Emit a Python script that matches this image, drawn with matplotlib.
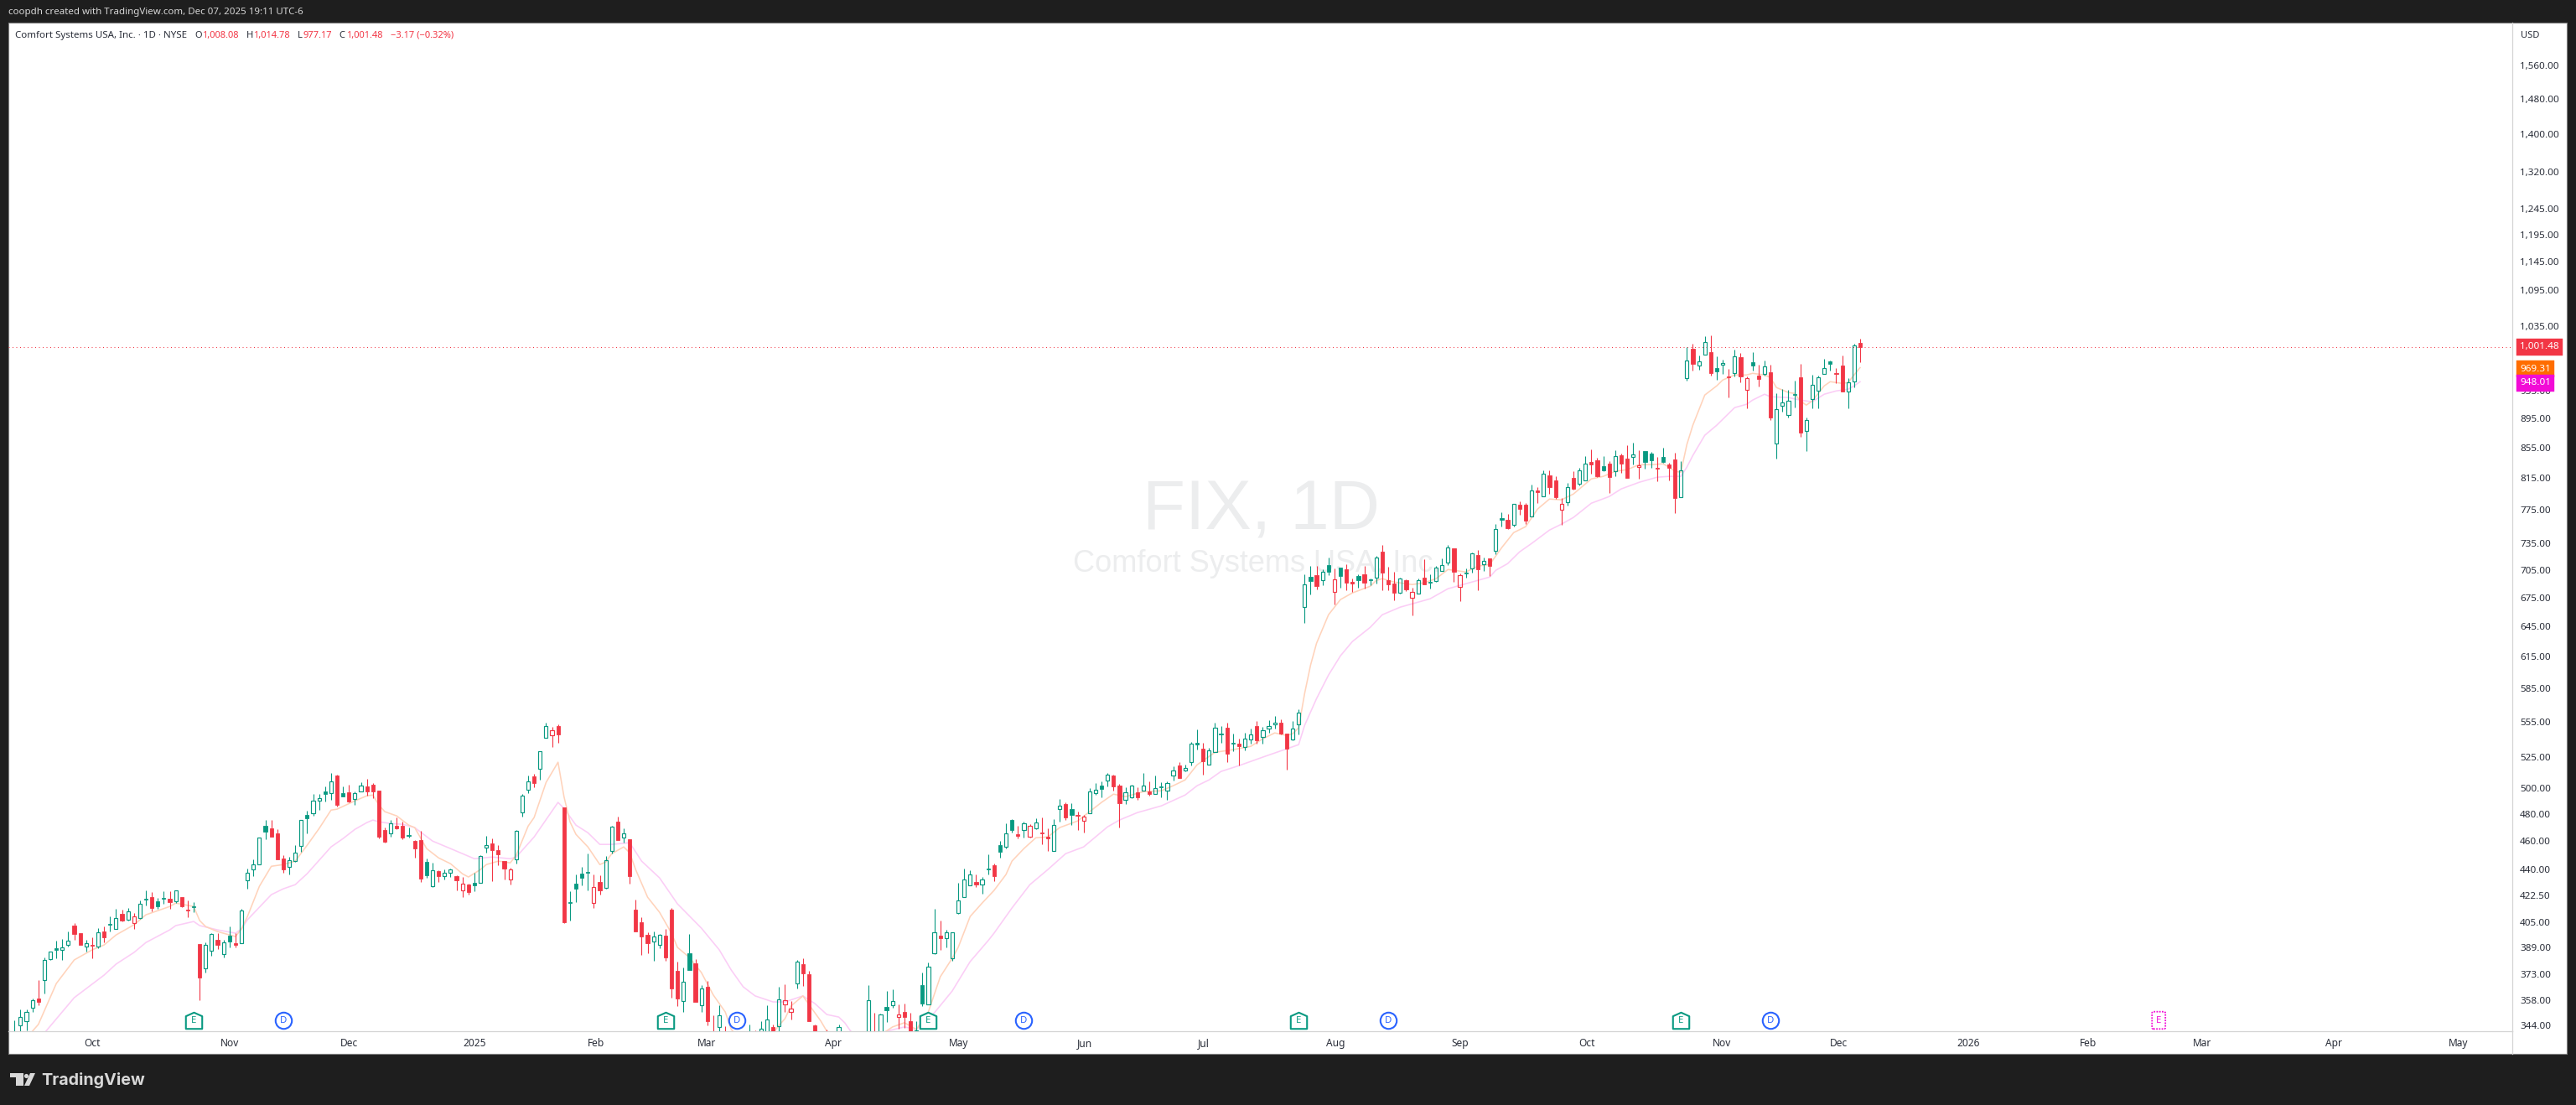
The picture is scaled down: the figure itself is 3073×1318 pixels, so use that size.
import numpy as np
import matplotlib
matplotlib.use("Agg")
import matplotlib.pyplot as plt
from matplotlib.patches import Rectangle, Polygon
from matplotlib.path import Path
from matplotlib.ticker import NullLocator

plt.rcParams['font.family'] = ['Noto Sans', 'DejaVu Sans']

# candle data, one row per ten sessions (the bars below the pane floor are estimates)
highs = [
 347.1,352.9,352.9,358.9,369.6,382.8,386.5,393.2,394.2,398.9,
 404.2,397.9,393.7,395.3,400.9,402.1,408.5,413.4,412.8,414.0,
 410.7,418.9,425.6,424.4,420.5,425.0,425.0,425.8,421.1,418.9,
 417.8,391.2,392.1,397.9,397.9,393.7,402.1,397.9,413.4,440.4,
 446.8,462.8,475.5,475.5,468.6,449.8,448.6,457.0,475.5,482.4,
 495.3,495.3,501.2,511.9,510.6,501.2,502.5,497.2,504.5,507.2,
 503.9,497.9,469.9,475.5,477.4,474.2,469.9,460.6,467.4,447.4,
 444.5,439.2,439.8,440.4,435.8,434.7,430.1,437.5,449.8,463.7,
 461.8,457.0,445.7,441.0,468.0,495.3,509.9,511.2,529.8,554.1,
 550.6,552.7,485.0,425.0,436.4,441.6,451.0,436.4,435.8,449.2,
 471.0,478.0,469.2,461.2,419.4,407.9,398.4,398.9,397.4,400.6,
 414.0,380.5,377.0,397.4,382.0,366.7,369.1,349.6,355.3,343.8,
 335.0,330.0,325.0,344.7,341.5,346.5,355.3,344.7,365.7,367.2,
 357.6,381.5,382.5,375.0,344.7,338.0,341.9,336.0,344.5,338.0,
 335.0,335.0,337.0,366.7,351.0,350.4,363.4,364.3,355.7,356.2,
 351.0,346.5,374.0,380.0,413.4,405.9,400.0,398.4,430.7,440.4,
 439.2,436.4,434.7,450.4,443.9,460.0,473.0,476.1,471.0,474.2,
 472.3,476.7,477.4,469.2,476.1,491.4,488.9,488.2,481.8,479.2,
 499.9,503.9,505.2,511.9,510.6,503.2,500.6,502.5,500.6,511.9,
 505.2,509.9,504.5,505.2,517.4,520.8,518.7,537.5,548.3,536.8,
 532.6,554.1,551.3,554.1,544.7,540.4,545.4,549.0,555.6,550.5,
 556.3,560.0,557.0,544.7,555.6,565.9,699.9,709.2,709.2,705.4,
 718.6,706.4,707.6,711.1,695.3,699.9,709.2,695.3,720.5,733.0,
 708.2,702.7,696.2,694.4,685.3,695.3,716.7,699.9,709.2,717.7,
 733.0,729.2,700.8,706.4,724.4,727.3,718.6,717.7,757.6,771.7,
 769.7,782.0,785.1,783.0,806.0,802.8,824.4,824.4,816.8,789.2,
 808.2,823.3,827.7,843.0,852.0,840.8,843.0,836.4,850.9,846.4,
 857.7,861.1,850.9,849.8,848.6,841.9,854.3,834.2,847.5,836.4,
 1001.8,1006.2,987.8,1018.2,1019.6,986.5,981.3,967.1,997.0,991.7,
 955.7,993.0,973.5,980.0,973.5,930.8,937.0,935.7,949.4,974.8,
 895.9,958.2,956.9,982.6,980.0,968.4,987.8,953.1,1006.2,1014.78,
]
body_tops = [
 338.0,348.6,351.4,358.0,359.0,381.3,386.4,388.6,388.9,393.5,
 402.7,397.9,391.5,390.6,398.3,398.9,403.7,407.3,410.1,411.6,
 408.4,416.5,420.0,421.1,418.2,420.5,420.0,425.6,421.1,412.8,
 415.0,391.2,390.5,397.4,393.7,392.1,396.3,391.6,412.3,437.9,
 443.7,462.8,471.0,469.2,465.5,447.4,446.1,452.0,475.3,479.2,
 490.5,492.0,497.2,505.0,509.9,495.9,496.6,496.4,501.7,501.2,
 502.5,497.9,468.0,472.8,471.0,471.0,464.3,460.0,460.6,445.1,
 439.1,438.7,437.9,439.7,435.2,430.0,429.5,430.7,449.6,456.8,
 458.2,453.4,445.7,440.2,467.2,494.4,505.6,509.2,529.6,551.0,
 548.0,551.3,485.0,417.8,430.1,436.9,438.1,427.7,431.3,446.1,
 470.4,474.2,465.9,461.2,412.8,404.8,396.8,395.6,396.7,396.3,
 412.8,375.0,368.5,385.5,379.5,364.6,365.7,340.0,349.5,338.0,
 332.0,328.0,322.0,336.0,336.0,342.2,347.3,343.3,358.4,357.9,
 353.2,380.4,379.0,373.0,344.2,334.0,338.0,332.0,343.3,335.0,
 330.0,331.0,333.0,357.9,340.0,350.0,354.2,357.4,350.0,351.3,
 346.5,341.5,366.7,377.4,398.3,396.3,398.3,398.3,418.7,432.8,
 436.2,431.3,432.8,440.4,442.7,457.0,465.9,475.5,464.9,472.8,
 470.9,473.4,466.1,463.0,472.1,486.1,487.5,483.5,479.4,477.8,
 497.7,499.0,501.9,511.0,509.9,501.9,497.0,501.7,496.6,501.7,
 497.2,499.7,501.2,503.7,513.8,518.0,516.4,536.1,536.8,531.9,
 530.3,549.8,544.7,549.8,536.8,536.1,540.4,543.9,551.2,547.4,
 551.0,554.6,553.9,544.7,548.8,563.4,688.7,697.1,699.0,703.3,
 710.8,695.0,707.3,705.4,691.6,697.9,699.9,694.7,718.6,725.3,
 693.4,689.8,695.9,693.4,681.4,694.1,696.2,691.6,707.3,710.1,
 730.1,729.2,699.0,702.0,724.0,721.5,715.5,717.7,752.3,764.6,
 762.6,781.7,780.9,780.9,799.4,798.6,820.8,817.9,811.4,781.7,
 803.6,814.6,825.1,833.9,835.3,837.5,829.9,833.1,843.8,844.1,
 839.8,845.3,831.7,849.8,846.4,827.7,841.9,832.0,838.6,824.1,
 980.9,998.3,979.6,1009.8,993.0,968.4,977.0,955.7,986.1,985.2,
 954.0,977.4,956.9,971.8,961.9,908.6,918.2,919.5,929.6,954.4,
 893.1,944.0,955.3,969.3,978.7,960.7,972.2,947.7,1003.5,1008.08,
]
body_bottoms = [
 335.0,344.3,346.4,354.0,357.1,369.4,382.1,387.7,387.7,390.8,
 397.5,390.6,389.8,390.3,389.8,395.4,403.4,400.7,406.0,406.2,
 404.1,407.6,419.3,414.0,415.0,420.2,417.8,418.3,415.0,412.5,
 414.7,371.0,376.7,387.2,390.6,385.2,392.6,390.6,391.8,432.6,
 440.2,443.7,467.0,463.2,446.8,439.8,441.4,445.8,456.2,476.7,
 480.9,490.5,495.3,496.4,486.9,493.3,489.5,491.6,497.7,497.2,
 497.2,463.1,459.4,465.7,469.2,462.4,463.7,454.6,433.5,435.8,
 428.2,435.2,435.6,437.7,432.4,425.7,424.4,429.0,430.9,455.4,
 453.4,450.4,440.4,433.1,447.0,481.3,498.8,503.9,515.6,541.3,
 543.7,544.0,404.8,417.2,426.7,434.1,437.5,417.1,425.6,427.4,
 453.0,460.6,462.8,435.2,398.9,395.8,391.6,392.8,390.8,383.0,
 364.8,359.0,357.8,375.5,357.1,355.4,346.5,332.0,343.4,328.0,
 322.0,318.0,312.0,325.0,330.0,338.0,335.0,336.0,343.6,355.6,
 351.7,367.5,373.5,346.5,335.0,325.0,330.0,325.0,337.0,325.0,
 322.0,322.0,326.0,335.0,330.0,338.0,352.4,355.4,348.8,348.8,
 340.0,340.5,356.2,355.9,385.5,394.7,394.9,382.5,410.7,421.3,
 429.1,429.5,429.7,439.8,435.2,452.2,456.0,468.0,463.7,467.8,
 463.0,469.1,465.5,462.0,453.0,483.9,477.4,479.2,478.8,475.0,
 480.7,496.1,499.3,506.0,501.2,488.2,491.0,492.5,492.7,498.1,
 495.3,495.7,500.6,498.1,509.7,507.8,514.0,521.0,535.9,521.5,
 518.9,529.3,544.0,527.7,536.1,534.0,533.3,539.7,539.0,542.0,
 549.2,552.9,544.7,531.9,539.5,552.5,665.4,692.8,687.4,694.1,
 702.9,681.0,697.9,691.0,689.8,693.4,690.8,693.8,696.5,701.7,
 688.9,679.9,679.9,683.5,674.8,679.3,688.9,690.8,692.3,704.2,
 713.3,702.7,686.5,701.1,707.0,705.4,711.4,709.2,726.9,763.3,
 752.6,756.9,775.8,761.6,766.9,796.5,791.6,802.8,790.3,775.1,
 784.3,800.8,807.5,811.7,832.0,816.8,824.4,815.7,823.6,833.1,
 814.6,842.3,829.1,835.3,837.5,826.6,835.3,827.7,789.2,790.6,
 953.5,974.8,972.7,989.5,960.7,963.3,974.4,954.4,961.1,955.7,
 936.1,972.2,951.9,959.8,895.9,860.3,913.0,899.8,928.4,874.8,
 877.5,922.6,934.8,959.8,974.8,959.4,933.3,933.7,948.4,1001.48,
]
lows = [
 332.0,340.0,341.3,351.7,355.3,361.9,381.5,382.3,381.5,389.8,
 393.9,390.6,386.5,382.5,388.6,392.2,398.9,400.7,405.3,406.0,
 400.6,406.9,415.6,411.8,413.4,416.7,413.4,417.2,414.5,407.9,
 411.2,358.1,374.0,384.0,388.1,383.0,389.1,389.1,391.6,426.7,
 435.2,443.7,461.2,463.2,446.8,437.5,436.4,445.1,452.2,465.5,
 478.6,483.0,489.5,490.7,485.6,493.3,488.9,486.9,497.7,494.0,
 492.0,461.8,458.8,463.0,468.6,461.2,462.4,448.0,431.3,434.1,
 428.0,431.3,433.0,434.7,425.6,421.1,422.8,425.0,430.7,451.6,
 431.8,442.7,433.0,429.5,443.9,478.0,495.9,500.6,506.5,541.1,
 533.3,536.8,404.2,405.9,417.8,429.0,425.6,414.0,422.8,426.7,
 451.0,460.6,458.8,430.1,398.9,384.5,385.5,381.0,388.6,381.0,
 359.5,354.8,351.5,375.5,357.1,351.5,344.2,328.0,339.6,322.0,
 318.0,312.0,306.0,320.0,322.0,332.0,330.0,331.0,341.0,351.7,
 347.4,364.8,366.2,346.5,330.0,320.0,325.0,320.0,333.0,320.0,
 318.0,316.0,321.0,330.0,325.0,335.0,346.0,353.9,342.5,342.8,
 336.0,337.0,354.8,355.7,385.0,387.6,389.1,381.0,410.1,421.1,
 429.0,427.8,423.3,436.4,431.8,448.0,454.6,466.1,461.8,462.4,
 462.4,468.6,457.6,452.8,452.8,474.2,475.5,471.7,468.0,466.1,
 480.5,494.6,492.7,501.2,497.9,469.9,487.5,492.0,490.7,497.9,
 494.0,495.3,492.7,490.7,505.9,507.8,513.3,518.0,531.2,510.6,
 518.7,529.3,536.8,520.8,529.8,518.0,530.5,536.1,536.1,536.1,
 545.4,549.0,544.0,514.6,539.2,544.0,648.3,678.1,683.5,688.0,
 699.0,667.4,685.3,682.6,680.8,685.3,684.4,688.0,689.8,682.6,
 682.6,671.9,679.6,681.7,656.0,679.0,688.9,684.4,691.6,703.6,
 710.1,691.6,671.0,696.2,701.7,682.6,703.6,697.9,722.4,754.6,
 751.6,754.6,768.7,757.6,766.6,783.0,791.3,794.4,788.2,756.6,
 779.9,799.7,805.0,811.4,820.0,815.7,823.3,795.5,816.8,821.1,
 814.6,832.0,813.5,826.6,827.7,810.3,834.2,811.4,770.7,790.3,
 949.4,964.6,965.8,989.1,956.9,950.6,959.4,924.7,955.7,946.9,
 908.9,964.6,940.7,956.9,892.3,839.8,904.2,895.9,910.2,869.0,
 849.8,908.9,908.9,959.4,964.6,945.6,933.3,908.9,939.4,977.17,
]
# h hollow green, g filled green, f filled red, r hollow red
candle_kinds = (
 "hhhhfhhghh" "ffhfhfghfh" "rhgfggfhff" "gfhhfhgfhh" "hhgfffhhhg"
 "hhghfgfhhf" "fffhffgffg" "hfhhfrfghh" "fffrhhhfhh" "rffggggrfh"
 "hfhffffhhf" "ffhgfhffhf" "fffhfhhfhr" "rhfffffhhf" "hfhhfhghrf"
 "fhghhfhhhh" "hfhgfghgfh" "rhffhhfgfr" "hhghffhhfh" "fhghhfhhgf"
 "hhgfgfhhfh" "hhffhhhgfh" "grgffgfghf" "ffhfrhfghh" "hfrghfhfhg"
 "fhffhfhffr" "hfhhffgfhf" "fhrggfgffh" "hfhhfghfhf" "rgfhfhhhgf"
 "hhhhgffhhf"
)

# moving averages, read at the sessions where the curve could be located
ma_fast_bars = [
 3,4,7,10,13,15,17,20,22,24,26,27,30,31,32,34,37,38,39,41,43,45,47,49,51,53,54,57,59,60,
 61,62,64,66,67,69,71,73,75,76,78,79,81,83,84,86,87,89,91,92,93,94,96,98,99,100,102,103,104,106,
 108,110,111,113,115,117,119,120,122,125,127,128,129,130,132,133,135,136,138,142,145,147,149,151,153,155,157,158,160,162,
 164,166,167,169,171,173,175,178,180,182,184,186,189,192,194,196,198,201,204,207,209,211,213,214,215,216,217,218,220,222,
 224,227,228,229,231,234,236,238,240,243,245,247,249,251,253,255,257,259,261,263,264,266,268,270,272,274,276,277,278,279,
 280,281,283,285,286,288,290,291,293,294,295,297,298,299,300,301,303,304,306,307,308,309]
ma_fast = [
 341,344.7,367.6,381.5,387.6,390.6,396.8,403.2,409.6,412.3,415,417.2,415,405.9,402.1,398.9,395.8,400.6,408.5,428.4,442.1,443.3,445.7,457,469.2,483,483.7,490.1,494,494.6,
 486.9,481.8,478.6,471.7,469.9,454.6,448,443.9,436.9,434.7,439.8,443.3,445.7,444.5,449.8,471,477.4,504.5,520.8,493.3,474.2,464.9,455.8,443.3,445.1,451,455.8,451.6,439.8,421.1,
 411.2,397.9,389.1,383,374,361,351.5,342,335,333,340,344.2,347.8,354.8,360.5,355.7,346.5,341,337,333,339,343.3,345.6,342,351.5,371.5,382.5,389.1,408.5,417.2,
 425.6,436.4,445.7,454.6,462.4,463,469.9,474.8,481.8,488.9,495.3,493.3,497.2,497.9,501.9,506.5,518.7,529,531.2,534,540.4,545.4,543.2,544.7,549.8,580.3,606.9,628.1,656.9,672.8,
 679.9,687.1,693.4,695.3,691.6,688.9,690.8,695.3,705.4,702.7,709.2,711.1,730.1,747.6,754.6,775.8,788.2,787.2,794.4,807,813.5,816.8,823.3,825.5,832,832,833.1,828.8,823.3,822.2,
 858.8,885.3,928.4,941.9,950.6,958.2,958.2,960.7,958.2,954.4,939.4,932.1,930.8,919.8,913.8,919.8,941.9,948.1,945.6,946.9,958.2,969.31]
ma_slow_bars = [
 5,10,15,17,20,22,26,27,30,31,34,37,38,39,41,43,45,47,49,53,55,57,59,60,61,63,65,67,70,73,
 77,80,83,84,87,91,92,94,96,98,100,103,105,108,111,115,118,120,122,124,127,129,132,134,136,138,139,140,143,145,
 146,149,151,154,157,160,163,164,167,170,173,176,179,183,185,188,192,196,198,200,202,205,209,213,215,216,218,220,222,224,
 227,229,232,234,237,240,242,245,247,248,250,252,254,257,259,261,264,267,269,272,275,277,279,280,281,283,285,287,288,290,
 291,293,294,297,299,301,303,305,307,308,309]
ma_slow = [
 340,359.5,372.5,379,386,392.1,400,402.7,405.3,402.7,400,397.9,400.6,406.4,414.5,422.8,426.7,429.5,437,455.8,461.8,468.6,473.6,475.5,474.2,472.9,472.3,469.9,460,454.6,
 447.4,448.6,447.4,448.6,463,488.9,484.3,471.7,466.1,457.6,457.6,458.8,445.7,434.1,416.7,401.1,387.6,375.5,365.7,360.5,357.1,357.1,360.5,356.2,350.1,348.7,345.6,341,336,339,
 341,343.3,342,351,363.3,380.5,393.2,397.9,414,429.5,439.8,451,455.8,470.4,475.5,481.1,486.2,494.6,501.9,506.5,513.3,518,525,531.9,535.4,551.9,575.7,597.4,615.8,629.8,
 644.1,656.9,664.8,668.3,673.6,684.4,688,693.4,697.1,704.5,712,725.3,734.9,750.6,757.6,765.6,783,791.3,800.8,809.2,815.7,816.8,816.8,828.8,844.1,871.4,885.3,901.8,910.2,915,
 921,929.6,925.9,924.7,921,918.6,929.6,934.4,936.9,941.9,948.01]

price_ticks = [1560,1480,1400,1320,1245,1195,1145,1095,1035,975,935,895,855,815,775,735,705,675,645,
               615,585,555,525,500,480,460,440,422.5,405,389,373,358,344]
month_positions = [13,36,56,77,97.4,115.9,137.1,158.1,179.2,199.1,221.2,242,263.3,285.9,305.4,327.1,347.2,366.3,388.3,409.2]
month_labels = ['Oct','Nov','Dec','2025','Feb','Mar','Apr','May','Jun','Jul','Aug','Sep','Oct','Nov','Dec','2026','Feb','Mar','Apr','May']
earnings_bars = [30,109,153,215,279]
dividend_bars = [45,121,169,230,294]
next_earnings_bar = 359
last_close, fast_last, slow_last = 1001.48, 969.31, 948.01

GREEN, RED = '#089981', '#f23645'
W, H = 3073, 1318
fx = lambda x: x / W
fy = lambda y: 1 - y / H

fig = plt.figure(figsize=(W / 100, H / 100), dpi=100, facecolor='#1e1e1e')
# chart pane background
fig.add_artist(Rectangle((fx(10), fy(1257)), fx(3052), 1230 / H, transform=fig.transFigure,
                         fc='white', ec='#7f7f7f', lw=0.8, zorder=-5))

ax = fig.add_axes([fx(10), fy(1230), fx(2987), 1203 / H], facecolor='none')
ax.set_yscale('log')
ax.set_xlim(-1.025, 418.2)
ax.set_ylim(341.0, 1668.6)

for s in ('top', 'left'):
    ax.spines[s].set_visible(False)
for s in ('right', 'bottom'):
    ax.spines[s].set_color('#d4d4d4')
    ax.spines[s].set_linewidth(0.9)
# separators reach the pane edges
fig.add_artist(plt.Line2D([fx(2997), fx(2997)], [fy(1230), fy(1257)], color='#d4d4d4', lw=0.9, zorder=-4))

ax.yaxis.tick_right()
ax.set_yticks(price_ticks)
ax.set_yticklabels([f'{p:,.2f}' for p in price_ticks])
ax.yaxis.set_minor_locator(NullLocator())
ax.tick_params(axis='y', length=0, pad=6.5, labelsize=8.4, labelcolor='#2a2e39')
ax.set_xticks(month_positions)
ax.set_xticklabels(month_labels)
ax.tick_params(axis='x', length=0, pad=5.5, labelsize=8.6, labelcolor='#2a2e39')
for lab in ax.get_xticklabels():
    if lab.get_text() in ('2025', '2026'):
        lab.set_fontweight('bold')

# watermark
ax.text(0.5005, 0.4971, 'FIX, 1D', transform=ax.transAxes, family='Liberation Sans', fontsize=60,
        color='#ecedee', ha='center', va='baseline', zorder=0)
ax.text(0.4988, 0.4555, 'Comfort Systems USA, Inc.', transform=ax.transAxes,
        family='Liberation Sans', fontsize=26, color='#ecedee', ha='center', va='baseline', zorder=0)

# moving averages
ax.plot(ma_slow_bars, ma_slow, color='#fbcdf6', lw=1.15, zorder=2, solid_joinstyle='round')
ax.plot(ma_fast_bars, ma_fast, color='#ffd3bb', lw=1.15, zorder=2.1, solid_joinstyle='round')

# candles
bars = np.arange(len(highs))
kinds = np.array(list(candle_kinds))
high, top, bot, low = map(np.array, (highs, body_tops, body_bottoms, lows))
colors = np.where(np.isin(kinds, ['h', 'g']), GREEN, RED)
ax.vlines(bars, top, high, colors=colors, lw=0.8, zorder=3)
ax.vlines(bars, low, bot, colors=colors, lw=0.8, zorder=3)
filled = np.isin(kinds, ['f', 'g'])
ax.bar(bars[filled], (top - bot)[filled], bottom=bot[filled], width=0.58, color=colors[filled],
       edgecolor=colors[filled], lw=0.6, zorder=3.2)
ax.bar(bars[~filled], (top - bot)[~filled], bottom=bot[~filled], width=0.58, facecolor='none',
       edgecolor=colors[~filled], lw=0.85, zorder=3.2)

# last-close dotted line
ax.axhline(last_close, color=RED, lw=0.72, ls=(0, (1, 3.5)), zorder=2.5)

# price tags
for val, col, txt, dy in [(last_close, RED, '1,001.48', 0),
                          (fast_last, '#ff6d00', '969.31', -1.5),
                          (slow_last, '#f20bd6', '948.01', -1.5)]:
    ax.annotate(txt, xy=(1, val), xycoords=('axes fraction', 'data'), xytext=(9, dy),
                textcoords='offset pixels', ha='left', va='center', fontsize=8.4, color='white',
                fontweight='bold', annotation_clip=False, zorder=20,
                bbox=dict(boxstyle='square,pad=0.38', fc=col, ec=col, lw=0.3))

# event markers along the pane floor
xt = ax.get_xaxis_transform()
ev_y = 1 - (1217 - 27) / 1203
house = Path([(-1, -1), (-1, 0.55), (0, 1), (1, 0.55), (1, -1), (-1, -1)], closed=True)
ax.plot(earnings_bars, [ev_y] * len(earnings_bars), transform=xt, ls='none', marker=house, ms=14,
        mfc='white', mec=GREEN, mew=1.5, zorder=6, clip_on=False)
ax.plot(dividend_bars, [ev_y] * len(dividend_bars), transform=xt, ls='none', marker='o', ms=14,
        mfc='white', mec='#2962ff', mew=1.5, zorder=6, clip_on=False)
for b in earnings_bars:
    ax.text(b, ev_y, 'E', transform=xt, ha='center', va='center', fontsize=8.2, color=GREEN, zorder=7)
for b in dividend_bars:
    ax.text(b, ev_y, 'D', transform=xt, ha='center', va='center', fontsize=8.2, color='#2962ff', zorder=7)
ax.text(next_earnings_bar, ev_y, 'E', transform=xt, ha='center', va='center', fontsize=8.2, color='#f20bd6', zorder=7,
        bbox=dict(boxstyle='round,pad=0.42,rounding_size=0.15', fc='white', ec='#f20bd6', lw=1.3, ls=(0, (1, 0.8))))

# header and legend text
fig.text(fx(10), fy(15), 'coopdh created with TradingView.com, Dec 07, 2025 19:11 UTC-6', color='#d6d6d6',
         fontsize=8.3, ha='left', va='center')
legend_parts = [(18, 'Comfort Systems USA, Inc. · 1D · NYSE', '#2a2e39'), (232, 'O', '#2a2e39'), (241, '1,008.08', RED),
                (294, 'H', '#2a2e39'), (302, '1,014.78', RED), (355, 'L', '#2a2e39'), (362, '977.17', RED),
                (404, 'C', '#2a2e39'), (413, '1,001.48', RED), (466, '\u22123.17 (\u22120.32%)', RED)]
for x, t, c, fs in [(p[0], p[1], p[2], 8.3 if i == 0 else 8.0) for i, p in enumerate(legend_parts)]:
    fig.text(fx(x), fy(42.5), t, color=c, fontsize=fs, ha='left', va='center', zorder=10)
fig.text(fx(3018), fy(42.5), 'USD', color='#2a2e39', fontsize=8.0, ha='center', va='center')

# TradingView logo
logo = '#d8d8d8'
fig.add_artist(Polygon([(fx(12), fy(1280)), (fx(28), fy(1280)), (fx(28), fy(1295)), (fx(19), fy(1295)),
                        (fx(19), fy(1285)), (fx(12), fy(1285))], closed=True, fc=logo, ec='none', transform=fig.transFigure))
fig.add_artist(Polygon([(fx(36), fy(1280)), (fx(42), fy(1280)), (fx(35), fy(1295)), (fx(29), fy(1295))],
                       closed=True, fc=logo, ec='none', transform=fig.transFigure))
fig.add_artist(plt.Line2D([fx(30.5)], [fy(1283)], marker='o', ms=3.7, color=logo, mew=0, transform=fig.transFigure))
fig.text(fx(49), fy(1288), 'TradingView', color=logo, fontsize=14.2, fontweight='bold', family='Inter',
         ha='left', va='center')

fig.savefig('out.png', dpi=100, facecolor=fig.get_facecolor())
